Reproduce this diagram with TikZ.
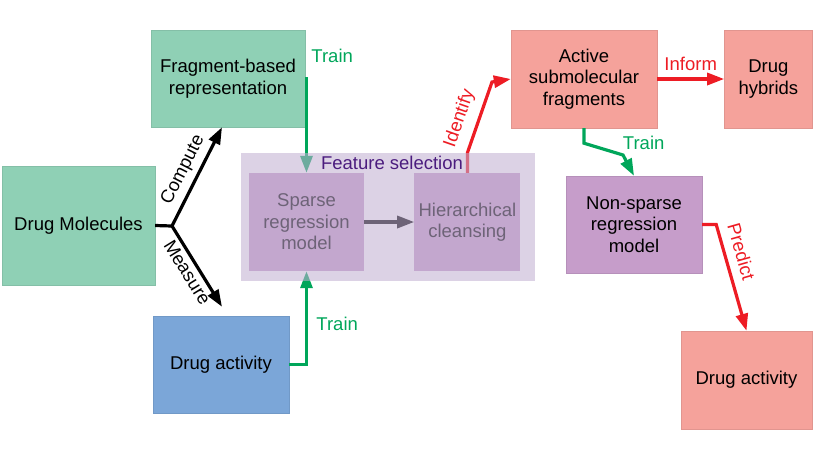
\documentclass[tikz,border=0pt]{standalone}
\usepackage{fontspec}
\setmainfont{Liberation Sans}
\usetikzlibrary{arrows.meta,positioning,calc}
\definecolor{mint}{HTML}{8FD0B5}
\definecolor{skyb}{HTML}{7BA6D8}
\definecolor{salmon}{HTML}{F5A29B}
\definecolor{mauve}{HTML}{C69DCA}
\definecolor{veil}{HTML}{C1AFD2}
\definecolor{grn}{HTML}{00A65A}
\definecolor{rd}{HTML}{ED1C24}
\definecolor{deep}{HTML}{4B1C7E}

\begin{document}
\begin{tikzpicture}[x=1pt,y=-1pt,font=\fontsize{18.5}{21.5}\selectfont,node distance=50pt,
box/.style={draw=#1!92!black,line width=.4pt,fill=#1,align=center,inner sep=2pt},
inbox/.style={fill=mauve,align=center,inner sep=2pt,minimum height=98pt},
arr/.style={-{Triangle[length=17pt,width=12pt]},line width=3.2pt}]
\useasboundingbox (0,0) rectangle (830,467);
\node[box=mint,minimum width=153pt,minimum height=119pt](mol) at (78.5,225.5){Drug Molecules};
\node[box=mint,minimum width=154pt,minimum height=97pt](frag) at (228,78.5){Fragment-based\\representation};
\node[box=skyb,minimum width=136pt,minimum height=97pt](act) at (221,364.5){Drug activity};
\node[inbox,minimum width=115pt](sp) at (306.5,222){Sparse\\regression\\model};
\node[inbox,minimum width=106pt,right=of sp](hc){Hierarchical\\cleansing};
\node[box=salmon,minimum width=146pt,minimum height=98pt](frg) at (584,79){Active\\submolecular\\fragments};
\node[box=salmon,minimum width=88pt,minimum height=98pt,right=67pt of frg](hyb){Drug\\hybrids};
\node[box=mauve,minimum width=136pt,minimum height=97pt](ns) at (634,224.5){Non-sparse\\regression\\model};
\node[box=salmon,minimum width=131pt,minimum height=98pt](pred) at (746.5,380){Drug activity};
% compute / measure
\coordinate (j) at (172,226);
\draw[arr](mol.east)--(j)--node[above=2pt,sloped]{Compute}([xshift=-6pt]frag.south);
\draw[arr](j)--node[below,sloped]{Measure}([shift={(1,-9)}]act.north);
% training of the sparse model
\draw[arr,grn](frag.east)-|node[pos=.5,above right,yshift=11pt]{Train}(sp.north);
\draw[arr,grn](act.east)-|node[pos=.72,right=5pt]{Train}(sp.south);
\draw[arr](sp)--(hc);
\draw[arr,rd](hc.north)--++(0,-20)--node[pos=.4,above=5pt,sloped]{Identify}(492,82)--(frg.west);
% feature selection group
\fill[veil,opacity=.57]($(sp.north west)+(-8,-20)$)rectangle($(hc.south east)+(14,10)$);
\node[text=deep,anchor=base](fsl) at (392,169){Feature selection};
% right part
\draw[arr,rd](frg)--node[above,yshift=3pt]{Inform}(hyb);
\draw[arr,grn](frg.south)--++(0,15)--(623,155)node[above right,xshift=-5pt]{Train}--(ns.north);
\draw[arr,rd](ns.east)--++(14,0)--node[pos=.3,above=5pt,sloped]{Predict}(pred.north);
\end{tikzpicture}
\end{document}
